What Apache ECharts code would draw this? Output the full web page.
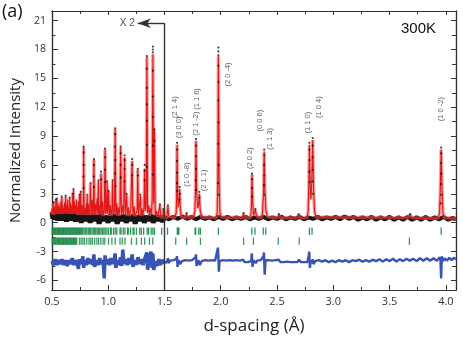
<!DOCTYPE html>
<html><head><meta charset="utf-8">
<script src="https://cdn.jsdelivr.net/npm/echarts@6/dist/echarts.min.js"></script>
<style>html,body{margin:0;padding:0;background:#fff}#c{width:463px;height:340px}</style>
</head><body><div id="c"></div>
<script>
// ---------- DATA ----------
const xMajor = [0.5,1.0,1.5,2.0,2.5,3.0,3.5,4.0];
const xMinor = [0.75,1.25,1.75,2.25,2.75,3.25,3.75];
const yMajor = [-6,-3,0,3,6,9,12,15,18,21];
const yMinor = [-4.5,-1.5,1.5,4.5,7.5,10.5,13.5,16.5,19.5];

// calculated profile (red)
const calcProfile = [
[0.500,0.9],[0.505,1.5],[0.510,0.8],[0.515,2.0],[0.520,0.9],[0.525,1.6],[0.530,1.0],[0.535,2.3],[0.540,1.1],[0.544,2.4],[0.549,0.9],[0.553,1.7],[0.558,1.0],[0.562,2.0],[0.567,0.9],[0.572,1.6],[0.576,1.0],[0.580,2.2],[0.584,1.1],[0.588,2.6],[0.593,1.0],[0.597,1.8],[0.601,0.9],[0.605,1.5],[0.609,1.0],[0.613,2.1],[0.618,1.1],[0.622,2.7],[0.627,1.0],[0.631,1.8],[0.636,1.0],[0.640,2.4],[0.645,0.9],[0.649,1.6],[0.654,1.0],[0.658,2.5],[0.663,1.0],[0.667,2.0],[0.672,0.9],[0.676,1.7],[0.680,1.0],[0.684,2.9],[0.688,1.2],[0.692,3.4],[0.696,1.0],[0.700,2.2],[0.705,0.9],[0.709,1.8],[0.714,0.9],[0.718,2.4],[0.723,0.9],[0.727,1.6],[0.731,0.8],[0.735,2.2],[0.740,0.9],[0.745,2.8],[0.750,1.0],[0.756,3.1],[0.762,0.8],[0.768,1.8],[0.774,0.8],[0.779,1.5],[0.782,7.8],[0.786,0.9],[0.795,1.5],[0.800,0.8],[0.805,2.0],[0.809,0.9],[0.814,2.8],[0.818,0.9],[0.823,2.0],[0.829,0.8],[0.836,1.2],[0.843,4.0],[0.849,0.8],[0.858,2.4],[0.864,0.8],[0.869,1.5],[0.873,6.5],[0.878,0.9],[0.885,2.0],[0.891,0.8],[0.902,2.5],[0.907,0.9],[0.913,4.3],[0.918,0.8],[0.925,1.8],[0.931,0.9],[0.937,5.1],[0.943,0.8],[0.951,2.2],[0.957,0.7],[0.966,1.2],[0.972,7.6],[0.978,0.9],[0.985,1.4],[0.990,4.2],[0.995,0.9],[1.004,3.2],[1.010,0.7],[1.020,1.8],[1.026,0.7],[1.034,1.3],[1.039,4.3],[1.045,0.9],[1.056,1.2],[1.062,9.7],[1.068,0.8],[1.076,2.0],[1.082,0.7],[1.090,1.6],[1.096,0.7],[1.105,1.8],[1.111,7.8],[1.117,0.8],[1.130,1.8],[1.136,0.8],[1.146,6.8],[1.152,0.8],[1.164,2.9],[1.170,0.7],[1.180,1.6],[1.186,0.7],[1.200,1.3],[1.207,1.4],[1.213,6.4],[1.219,0.8],[1.230,1.7],[1.236,0.7],[1.257,1.2],[1.263,5.5],[1.269,0.8],[1.286,2.8],[1.292,0.7],[1.300,1.5],[1.306,0.7],[1.318,1.5],[1.324,5.6],[1.329,1.2],[1.338,1.8],[1.344,17.2],[1.350,1.0],[1.360,1.8],[1.366,0.7],[1.375,1.5],[1.385,0.9],[1.391,2.5],[1.397,17.5],[1.404,2.0],[1.411,9.6],[1.418,0.8],[1.430,1.2],[1.440,0.6],[1.455,0.7],[1.460,1.8],[1.466,0.6],[1.485,0.6],[1.490,1.3],[1.496,0.6],
[1.500,0.5],[1.520,0.5],[1.526,0.7],[1.531,1.7],[1.537,0.7],[1.545,0.5],[1.590,0.5],[1.600,0.6],[1.604,1.0],[1.608,2.5],[1.612,8.1],[1.617,3.0],[1.622,1.6],[1.630,2.2],[1.635,3.5],[1.641,1.4],[1.650,0.6],[1.685,0.5],[1.690,0.6],[1.696,0.9],[1.703,0.6],[1.715,0.5],[1.760,0.6],[1.770,1.2],[1.775,3.0],[1.780,8.5],[1.786,3.2],[1.795,1.5],[1.804,2.0],[1.810,3.0],[1.817,1.3],[1.830,0.6],[1.845,0.5],[1.960,0.5],[1.968,1.0],[1.974,4.0],[1.979,17.3],[1.985,4.5],[1.992,1.1],[2.002,0.6],[2.015,0.5],[2.190,0.5],[2.198,0.6],[2.203,0.9],[2.209,0.6],[2.218,0.5],[2.262,0.5],[2.270,1.0],[2.274,2.0],[2.278,5.0],[2.284,2.0],[2.292,0.8],[2.303,1.0],[2.308,1.3],[2.314,0.9],[2.325,0.6],[2.360,0.5],[2.370,0.9],[2.380,3.0],[2.386,7.4],[2.392,3.2],[2.402,1.2],[2.415,0.6],[2.430,0.5],[2.500,0.5],[2.510,0.6],[2.517,0.8],[2.525,0.6],[2.535,0.5],[2.675,0.5],[2.684,0.6],[2.692,0.8],[2.700,0.6],[2.710,0.5],[2.765,0.5],[2.776,1.1],[2.782,3.5],[2.788,8.1],[2.795,3.6],[2.801,2.4],[2.808,4.0],[2.817,8.6],[2.824,3.8],[2.833,1.2],[2.845,0.6],[2.860,0.5],[3.660,0.5],[3.672,0.6],[3.682,0.8],[3.692,0.6],[3.705,0.5],[3.930,0.45],[3.944,1.0],[3.951,3.5],[3.958,7.6],[3.966,3.4],[3.974,1.0],[3.988,0.5],[4.090,0.45]
];

// observed background band (black)
const obsBandLeft = [[0.50,1.1],[0.51,0.4],[0.52,1.3],[0.53,0.3],[0.54,1.0],[0.55,0.2],[0.56,1.2],[0.57,0.4],[0.58,1.1],[0.59,0.2],[0.60,1.0],[0.61,0.3],[0.62,1.2],[0.63,0.1],[0.64,0.9],[0.65,0.3],[0.66,1.1],[0.67,0.2],[0.68,1.0],[0.69,0.4],[0.70,1.2],[0.71,0.1],[0.72,0.9],[0.73,0.3],[0.74,1.0],[0.76,0.0],[0.78,0.9],[0.80,0.2],[0.82,0.8],[0.84,0.0],[0.86,0.9],[0.88,0.2],[0.90,0.8],[0.92,-0.1],[0.94,0.9],[0.96,0.2],[0.98,0.7],[1.00,0.0],[1.02,0.8],[1.04,0.2],[1.06,0.9],[1.08,-0.1],[1.10,0.7],[1.12,0.2],[1.14,0.8],[1.16,0.0],[1.18,0.7],[1.20,0.2],[1.22,0.8],[1.24,-0.1],[1.26,0.7],[1.28,0.2],[1.30,0.8],[1.32,0.0],[1.34,0.7],[1.36,0.2],[1.38,0.8],[1.40,0.0],[1.42,0.7],[1.44,0.2],[1.46,0.7],[1.48,0.1],[1.50,0.5]];
const obsBandRight = [[1.50,0.55],[1.54,0.35],[1.58,0.6],[1.62,0.4],[1.66,0.65],[1.70,0.4],[1.74,0.6],[1.78,0.35],[1.82,0.6],[1.86,0.4],[1.90,0.55],[1.94,0.35],[1.98,0.6],[2.02,0.4],[2.06,0.6],[2.10,0.35],[2.14,0.55],[2.18,0.4],[2.22,0.6],[2.26,0.35],[2.30,0.55],[2.34,0.4],[2.38,0.6],[2.42,0.35],[2.46,0.55],[2.50,0.4],[2.54,0.6],[2.58,0.35],[2.62,0.55],[2.66,0.4],[2.70,0.6],[2.74,0.35],[2.78,0.55],[2.82,0.4],[2.86,0.6],[2.90,0.35],[2.94,0.55],[2.98,0.4],[3.02,0.6],[3.06,0.35],[3.10,0.65],[3.14,0.4],[3.18,0.6],[3.22,0.3],[3.26,0.55],[3.30,0.35],[3.34,0.6],[3.38,0.3],[3.42,0.55],[3.46,0.35],[3.50,0.6],[3.54,0.3],[3.58,0.55],[3.62,0.3],[3.66,0.6],[3.70,0.3],[3.74,0.55],[3.78,0.3],[3.82,0.6],[3.86,0.3],[3.90,0.55],[3.94,0.35],[3.98,0.6],[4.02,0.3],[4.06,0.5],[4.09,0.35]];

// observed points on peaks (black dots)
const obsDots = [
[0.515,2.1],[0.535,2.4],[0.544,2.5],[0.588,2.7],[0.622,2.8],[0.658,2.6],[0.684,3.0],[0.692,3.5],[0.745,2.9],[0.756,3.2],[0.814,2.9],
[0.782,7.9],[0.782,7.3],[0.782,6.0],[0.781,4.8],[0.783,3.6],[0.843,4.1],[0.873,6.6],[0.873,6.0],[0.872,4.8],[0.874,3.7],[0.913,4.4],[0.937,5.3],[0.937,4.5],[0.972,7.7],[0.972,6.8],[0.971,5.5],[0.973,4.2],[0.990,4.3],[1.004,3.3],[1.039,4.4],[1.062,9.8],[1.062,9.2],[1.061,7.9],[1.063,6.5],[1.061,5.1],[1.064,3.8],[1.111,7.9],[1.111,7.2],[1.110,6.0],[1.112,4.7],[1.146,7.0],[1.146,6.5],[1.146,5.6],[1.145,4.3],[1.164,3.0],[1.213,6.6],[1.213,6.0],[1.212,4.9],[1.263,5.6],[1.263,4.9],[1.286,2.9],[1.324,6.0],[1.324,5.4],[1.323,4.4],
[1.344,17.3],[1.344,16.0],[1.344,14.0],[1.344,12.3],[1.344,10.6],[1.344,8.1],[1.344,5.8],[1.397,18.3],[1.397,18.0],[1.397,17.7],[1.397,15.8],[1.397,13.1],[1.397,11.0],[1.397,8.0],[1.397,5.0],[1.411,9.7],[1.411,8.5],[1.460,1.9],[1.490,1.4],
[1.531,1.8],[1.612,8.3],[1.612,7.6],[1.611,6.4],[1.613,5.2],[1.611,4.1],[1.614,3.3],[1.635,3.7],[1.636,3.0],[1.634,2.4],[1.696,1.0],[1.780,8.7],[1.780,8.0],[1.779,6.9],[1.781,5.6],[1.778,4.4],[1.782,3.4],[1.810,3.2],[1.811,2.6],
[1.979,18.2],[1.979,17.8],[1.979,17.4],[1.978,16.3],[1.980,14.6],[1.978,12.7],[1.980,10.4],[1.977,8.2],[1.981,6.0],[1.976,4.1],[1.982,2.9],
[2.203,1.0],[2.278,5.1],[2.278,4.5],[2.277,3.6],[2.279,2.7],[2.308,1.4],[2.386,7.6],[2.386,7.0],[2.385,6.0],[2.387,4.9],[2.384,3.9],[2.389,2.9],[2.517,0.9],[2.692,0.9],
[2.788,8.3],[2.787,7.6],[2.789,6.5],[2.786,5.3],[2.790,4.2],[2.817,8.8],[2.817,8.0],[2.816,6.8],[2.818,5.5],[2.815,4.3],[2.820,3.0],[3.682,0.9],
[3.958,7.8],[3.958,7.2],[3.957,6.2],[3.959,5.1],[3.956,4.0],[3.961,2.9],[3.954,2.0]
];

// difference curve (blue)
const diffLeft = [[0.500,-4.0],[0.515,-4.4],[0.530,-3.8],[0.545,-4.4],[0.560,-3.9],[0.575,-4.3],[0.590,-3.8],[0.605,-4.4],[0.620,-3.9],[0.635,-4.5],[0.650,-3.9],[0.665,-4.3],[0.680,-3.7],[0.695,-4.4],[0.710,-3.9],[0.725,-4.3],[0.735,-4.8],[0.745,-3.8],[0.760,-4.3],[0.775,-3.5],[0.782,-4.7],[0.790,-3.9],[0.805,-4.4],[0.820,-3.7],[0.835,-4.3],[0.850,-3.8],[0.865,-4.4],[0.873,-3.3],[0.880,-4.6],[0.895,-3.9],[0.910,-4.4],[0.925,-3.7],[0.940,-4.3],[0.955,-3.9],[0.965,-5.8],[0.972,-3.4],[0.980,-4.3],[0.995,-3.8],[1.010,-4.4],[1.025,-3.7],[1.040,-4.3],[1.055,-3.8],[1.062,-3.2],[1.068,-4.7],[1.080,-3.9],[1.095,-4.4],[1.110,-3.6],[1.120,-4.5],[1.130,-2.8],[1.140,-4.3],[1.155,-3.8],[1.170,-4.4],[1.185,-3.7],[1.200,-4.3],[1.213,-3.3],[1.220,-4.6],[1.235,-3.9],[1.250,-4.4],[1.265,-3.6],[1.280,-4.3],[1.295,-3.8],[1.310,-4.4],[1.325,-3.7],[1.344,-3.1],[1.350,-4.9],[1.365,-3.9],[1.380,-3.0],[1.390,-4.7],[1.397,-3.2],[1.405,-4.9],[1.420,-4.0],[1.435,-4.5],[1.450,-3.8],[1.465,-4.4],[1.480,-3.9],[1.500,-4.2]];
const diffRight = [[1.500,-4.1],[1.510,-3.9],[1.520,-4.15],[1.531,-3.7],[1.537,-4.2],[1.550,-3.95],[1.565,-4.1],[1.580,-3.9],[1.595,-4.1],[1.605,-3.8],[1.612,-3.5],[1.616,-4.6],[1.625,-3.9],[1.635,-3.8],[1.640,-4.3],[1.655,-4.0],[1.670,-4.1],[1.685,-3.9],[1.700,-4.1],[1.715,-3.95],[1.730,-4.1],[1.745,-3.9],[1.760,-4.1],[1.775,-3.6],[1.780,-3.3],[1.785,-4.5],[1.800,-3.9],[1.810,-3.7],[1.815,-4.4],[1.830,-4.0],[1.845,-4.1],[1.860,-3.9],[1.875,-4.1],[1.890,-3.95],[1.905,-4.1],[1.920,-3.9],[1.935,-4.05],[1.950,-3.95],[1.965,-4.1],[1.975,-2.6],[1.979,-3.5],[1.983,-5.1],[1.990,-4.0],[2.005,-4.1],[2.020,-3.9],[2.035,-4.1],[2.050,-3.95],[2.065,-4.1],[2.080,-3.9],[2.095,-4.05],[2.110,-3.95],[2.125,-4.1],[2.140,-3.9],[2.155,-4.1],[2.170,-3.95],[2.185,-4.1],[2.200,-3.85],[2.210,-4.1],[2.225,-3.95],[2.240,-4.1],[2.255,-3.9],[2.270,-4.0],[2.276,-3.2],[2.282,-4.6],[2.292,-3.9],[2.305,-3.7],[2.312,-4.2],[2.325,-3.95],[2.340,-4.1],[2.355,-3.9],[2.370,-4.1],[2.380,-3.5],[2.384,-3.1],[2.390,-5.4],[2.398,-3.9],[2.410,-4.1],[2.425,-3.9],[2.440,-4.1],[2.455,-3.95],[2.470,-4.1],[2.485,-3.9],[2.500,-4.1],[2.515,-3.85],[2.530,-4.1],[2.545,-3.95],[2.560,-4.1],[2.575,-3.9],[2.590,-4.05],[2.605,-3.95],[2.620,-4.1],[2.635,-3.9],[2.650,-4.1],[2.665,-3.95],[2.680,-4.1],[2.695,-3.85],[2.710,-4.1],[2.725,-3.9],[2.740,-4.1],[2.755,-3.95],[2.770,-4.1],[2.782,-3.4],[2.786,-3.0],[2.792,-4.7],[2.800,-3.9],[2.810,-4.2],[2.817,-3.8],[2.824,-4.3],[2.840,-4.0],[2.855,-4.1],[2.870,-3.9],[2.900,-4.05],[2.930,-3.9],[2.960,-4.1],[2.990,-3.95],[3.020,-4.1],[3.050,-3.9],[3.080,-4.05],[3.110,-3.9],[3.140,-4.1],[3.170,-3.9],[3.200,-4.0],[3.230,-3.85],[3.260,-4.05],[3.290,-3.9],[3.320,-4.05],[3.350,-3.85],[3.380,-4.0],[3.410,-3.8],[3.440,-4.05],[3.470,-3.8],[3.500,-4.0],[3.530,-3.75],[3.560,-4.05],[3.590,-3.8],[3.620,-4.0],[3.650,-3.75],[3.680,-3.95],[3.710,-3.75],[3.740,-4.0],[3.770,-3.7],[3.800,-3.95],[3.830,-3.7],[3.860,-3.95],[3.890,-3.7],[3.920,-3.95],[3.945,-3.6],[3.952,-3.9],[3.958,-5.8],[3.964,-3.5],[3.975,-4.0],[3.990,-3.7],[4.010,-3.95],[4.030,-3.65],[4.050,-3.9],[4.070,-3.65],[4.090,-3.8]];

// reflection tick positions (green)
const phase1Ticks = [0.502,0.508,0.516,0.522,0.531,0.537,0.545,0.551,0.559,0.566,0.572,0.580,0.586,0.594,0.601,0.607,0.615,0.621,0.629,0.636,0.642,0.650,0.657,0.663,0.671,0.677,0.685,0.692,0.698,0.706,0.712,0.720,0.727,0.736,0.745,0.752,0.760,0.768,0.776,0.786,0.800,0.810,0.823,0.835,0.845,0.858,0.872,0.880,0.890,0.902,0.913,0.925,0.937,0.950,0.962,0.974,0.989,1.003,1.021,1.027,1.047,1.062,1.076,1.105,1.114,1.134,1.149,1.172,1.178,1.199,1.221,1.230,1.251,1.280,1.295,1.315,1.347,1.359,1.382,1.397,1.411,1.475,1.527,1.614,1.621,1.628,1.772,1.777,1.805,1.819,1.979,2.276,2.304,2.378,2.400,2.788,2.811,3.958];
const phase2Ticks = [0.503,0.510,0.517,0.524,0.530,0.538,0.546,0.552,0.560,0.567,0.574,0.581,0.588,0.595,0.602,0.609,0.616,0.623,0.630,0.637,0.644,0.651,0.658,0.665,0.672,0.679,0.686,0.693,0.700,0.707,0.714,0.721,0.745,0.760,0.775,0.790,0.810,0.830,0.845,0.860,0.880,0.900,0.915,0.935,0.955,0.970,1.003,1.033,1.062,1.105,1.125,1.149,1.207,1.251,1.295,1.324,1.367,1.396,1.600,1.697,1.820,2.203,2.290,2.511,2.697,3.676];

// hkl annotations
const hklText = ['(2 1 4)','(3 0 0)','(1 0 -8)','(1 1 6)','(2 1 -2)','(2 1 1)','(2 0 -4)','(2 0 2)','(0 0 6)','(1 1 3)','(1 1 0)','(1 0 4)','(1 0 -2)'];
const hklD    = [1.595,1.630,1.700,1.787,1.780,1.850,2.060,2.260,2.350,2.440,2.777,2.873,3.960];
const hklY    = [12.0,9.9,5.0,12.85,10.3,4.4,15.4,6.7,10.6,8.7,10.4,12.0,11.8];

// ---------- CHART ----------
const chart = echarts.init(document.getElementById('c'), null, {renderer:'canvas'});
const XMIN=0.5, XMAX=4.09, YMIN=-7, YMAX=22;
const axCol = '#333';
const FONT = 'Open Sans';
function xAx(pos, ticks, len, labels){
  return {type:'value', min:XMIN, max:XMAX, position:pos,
    axisLine:{show:true, onZero:false, lineStyle:{color:axCol, width:1.2}},
    axisTick:{show:true, inside:true, length:len, customValues:ticks, lineStyle:{color:axCol, width:1}},
    axisLabel:labels ? {show:true, customValues:ticks, formatter:v=>v.toFixed(1), fontSize:11, color:'#333', margin:6, fontFamily:FONT} : {show:false},
    splitLine:{show:false}};
}
function yAx(pos, ticks, len, labels){
  return {type:'value', min:YMIN, max:YMAX, position:pos,
    axisLine:{show:true, onZero:false, lineStyle:{color:axCol, width:1.2}},
    axisTick:{show:true, inside:true, length:len, customValues:ticks, lineStyle:{color:axCol, width:1}},
    axisLabel:labels ? {show:true, customValues:ticks, fontSize:10.5, color:'#333', margin:6, fontFamily:FONT} : {show:false},
    splitLine:{show:false}};
}
const xa0 = xAx('bottom', xMajor, 5, true);
xa0.name = 'd-spacing (Å)'; xa0.nameLocation='middle'; xa0.nameGap=28;
xa0.nameTextStyle = {fontSize:17, color:'#222', fontFamily:FONT};
const ya0 = yAx('left', yMajor, 6, true);
ya0.name = 'Normalized Intensity'; ya0.nameLocation='middle'; ya0.nameGap=24;
ya0.nameTextStyle = {fontSize:15, color:'#222', fontFamily:FONT};

const annData = hklText.map((t,i)=>({name:t, value:[hklD[i], hklY[i]]}));

chart.setOption({
  animation:false,
  grid:{left:46, right:7, top:11, bottom:47, containLabel:false},
  xAxis:[xa0, xAx('bottom', xMinor, 3, false), xAx('top', xMajor, 4, false), xAx('top', xMinor, 3, false)],
  yAxis:[ya0, yAx('left', yMinor, 3.5, false), yAx('right', yMajor, 5, false), yAx('right', yMinor, 4, false)],
  graphic:[
    {type:'text', left:2, top:3, style:{text:'(a)', font:'18px "Open Sans"', fill:'#111'}},
    {type:'text', left:401, top:21, style:{text:'300K', font:'15px "Liberation Sans"', fill:'#111'}}
  ],
  series:[
    {type:'line', data:obsBandLeft, symbol:'none', lineStyle:{color:'#151515', width:5}, z:1},
    {type:'line', data:obsBandRight, symbol:'none', lineStyle:{color:'#151515', width:4}, z:1},
    {type:'line', data:calcProfile, symbol:'none', lineStyle:{color:'rgba(238,90,90,0.55)', width:3.5}, z:2},
    {type:'line', data:calcProfile, symbol:'none', lineStyle:{color:'#e01818', width:1.1}, z:3},
    {type:'scatter', data:obsDots, symbol:'circle', symbolSize:2.2, itemStyle:{color:'#111'}, z:4},
    {type:'scatter', data:phase1Ticks.map(d=>[d,-0.89]), symbol:'rect', symbolSize:[1.3,7.3], itemStyle:{color:'#1a8a48', opacity:0.9}, z:2},
    {type:'scatter', data:phase2Ticks.map(d=>[d,-1.93]), symbol:'rect', symbolSize:[1.3,7.3], itemStyle:{color:'#1a8a48', opacity:0.85}, z:2},
    {type:'line', data:diffLeft, symbol:'none', lineStyle:{color:'#3853b3', width:3.5}, z:2},
    {type:'line', data:diffRight, symbol:'none', lineStyle:{color:'#3853b3', width:2.4}, z:2,
      markLine:{silent:true, animation:false, label:{show:false}, lineStyle:{color:'#333', width:1.4, type:'solid'},
        data:[
          [{coord:[1.5,YMIN], symbol:'none'},{coord:[1.5,20.73], symbol:'none'}],
          [{coord:[1.5,20.73], symbol:'none'},{coord:[1.262,20.73], symbol:'arrow', symbolSize:[7,13]}]
        ]}},
    {type:'scatter', data:annData, symbolSize:0, z:6,
      label:{show:true, position:'inside', rotate:90, formatter:p=>p.name, fontSize:7.5, color:'#333', fontFamily:'Liberation Sans'}},
    {type:'scatter', data:[{name:'X 2', value:[1.17,20.75]}], symbolSize:0, z:6,
      label:{show:true, position:'inside', formatter:p=>p.name, fontSize:10, color:'#222', fontFamily:'Liberation Sans'}}
  ]
});
</script></body></html>
